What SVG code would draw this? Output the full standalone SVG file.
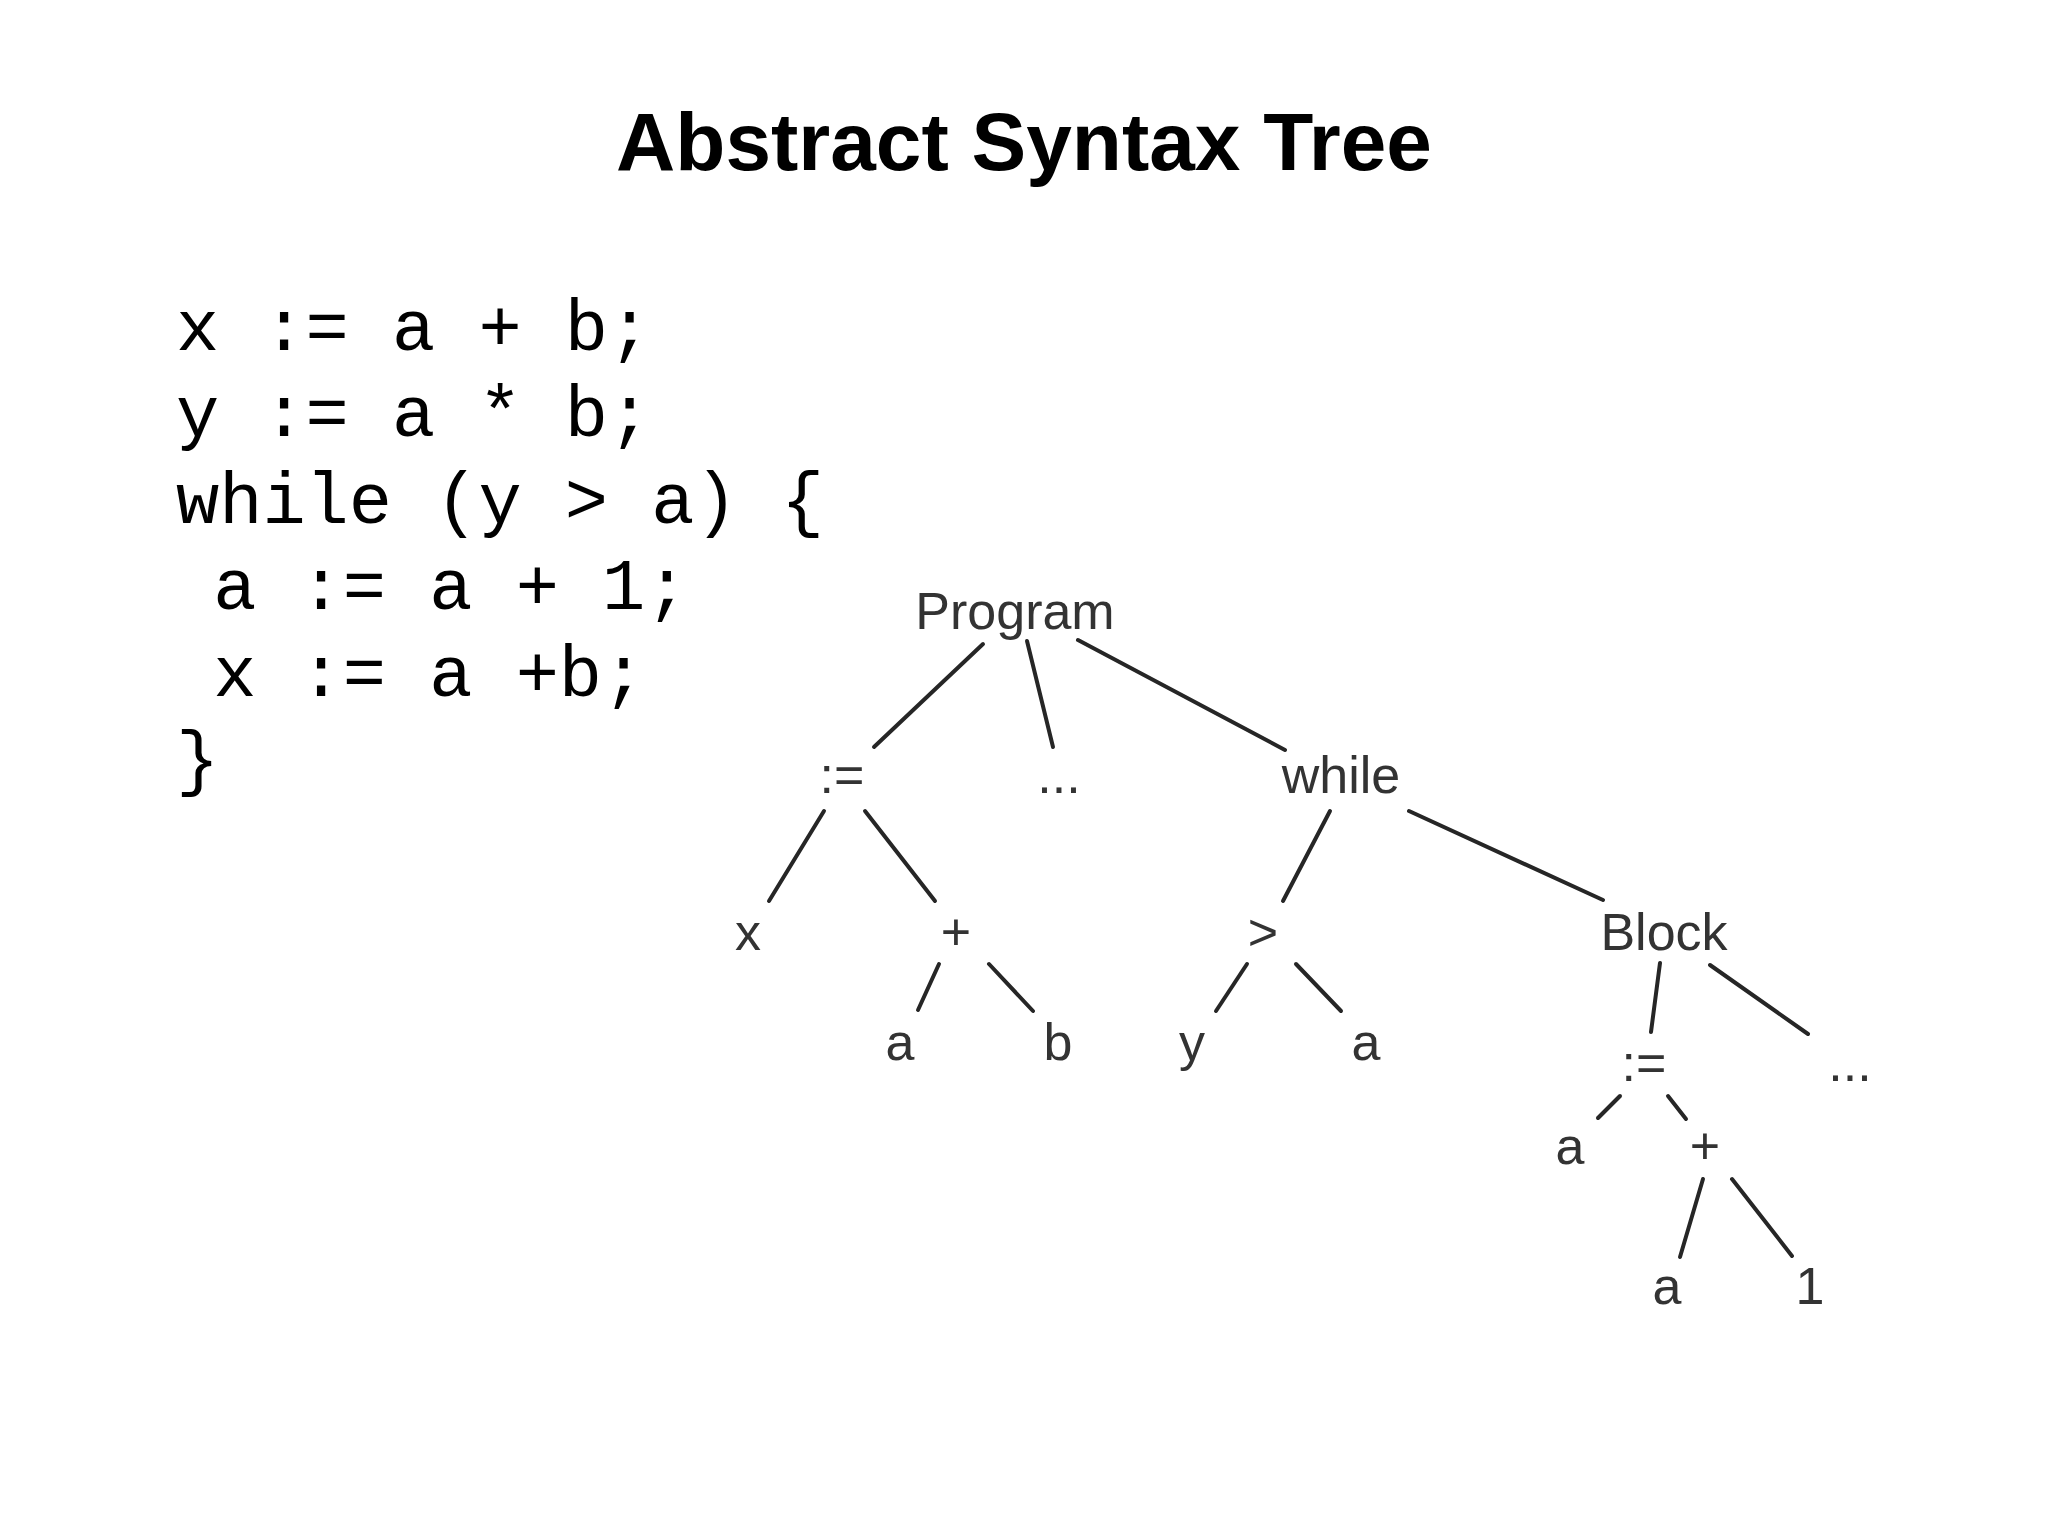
<svg xmlns="http://www.w3.org/2000/svg" width="2048" height="1536" viewBox="0 0 2048 1536">
<style>
.title{font-family:"Liberation Sans",Arial,sans-serif;font-weight:bold;font-size:82px;fill:#000;text-anchor:middle}
.code{font-family:"Liberation Mono","Courier New",monospace;font-size:72px;fill:#000;white-space:pre}
.n{font-family:"Liberation Sans",Arial,sans-serif;font-size:52px;fill:#333;text-anchor:middle}
.e{stroke:#262626;stroke-width:4;stroke-linecap:round;fill:none}
</style>
<rect width="2048" height="1536" fill="#fff"/>
<text class="title" x="1024" y="170">Abstract Syntax Tree</text>
<g id="code">
<text class="code" x="176" y="350" xml:space="preserve">x := a + b;</text>
<text class="code" x="176" y="436" xml:space="preserve">y := a * b;</text>
<text class="code" x="176" y="523" xml:space="preserve">while (y &gt; a) {</text>
<text class="code" x="170" y="609" xml:space="preserve"> a := a + 1;</text>
<text class="code" x="170" y="696" xml:space="preserve"> x := a +b;</text>
<text class="code" x="176" y="782" xml:space="preserve">}</text>
</g>
<g id="connectors">
<line class="e" x1="983" y1="644" x2="874" y2="747"/>
<line class="e" x1="1027" y1="641" x2="1053" y2="747"/>
<line class="e" x1="1078" y1="640" x2="1285" y2="750"/>
<line class="e" x1="824" y1="811" x2="769" y2="901"/>
<line class="e" x1="865" y1="811" x2="935" y2="901"/>
<line class="e" x1="1330" y1="811" x2="1283" y2="901"/>
<line class="e" x1="1409" y1="811" x2="1603" y2="900"/>
<line class="e" x1="939" y1="964" x2="918" y2="1010"/>
<line class="e" x1="989" y1="964" x2="1033" y2="1011"/>
<line class="e" x1="1247" y1="964" x2="1216" y2="1011"/>
<line class="e" x1="1296" y1="964" x2="1341" y2="1011"/>
<line class="e" x1="1660" y1="963" x2="1651" y2="1032"/>
<line class="e" x1="1710" y1="965" x2="1808" y2="1034"/>
<line class="e" x1="1620" y1="1096" x2="1598" y2="1118"/>
<line class="e" x1="1668" y1="1096" x2="1686" y2="1119"/>
<line class="e" x1="1703" y1="1179" x2="1680" y2="1257"/>
<line class="e" x1="1732" y1="1179" x2="1792" y2="1256"/>
</g>
<g id="program"><text class="n" x="1015" y="629">Program</text></g>
<g id="assign1"><text class="n" x="842" y="793">:=</text></g>
<g id="dots1"><text class="n" x="1059" y="793">...</text></g>
<g id="while"><text class="n" x="1341" y="793">while</text></g>
<g id="x1"><text class="n" x="748" y="950">x</text></g>
<g id="plus1"><text class="n" x="956" y="950">+</text></g>
<g id="gt"><text class="n" x="1263" y="950">&gt;</text></g>
<g id="block"><text class="n" x="1664" y="950">Block</text></g>
<g id="a1"><text class="n" x="900" y="1060">a</text></g>
<g id="b1"><text class="n" x="1058" y="1060">b</text></g>
<g id="y1"><text class="n" x="1192" y="1060">y</text></g>
<g id="a2"><text class="n" x="1366" y="1060">a</text></g>
<g id="assign2"><text class="n" x="1644" y="1081">:=</text></g>
<g id="dots2"><text class="n" x="1850" y="1081">...</text></g>
<g id="a3"><text class="n" x="1570" y="1164">a</text></g>
<g id="plus2"><text class="n" x="1705" y="1164">+</text></g>
<g id="a4"><text class="n" x="1667" y="1304">a</text></g>
<g id="one"><text class="n" x="1810" y="1304">1</text></g>
</svg>
